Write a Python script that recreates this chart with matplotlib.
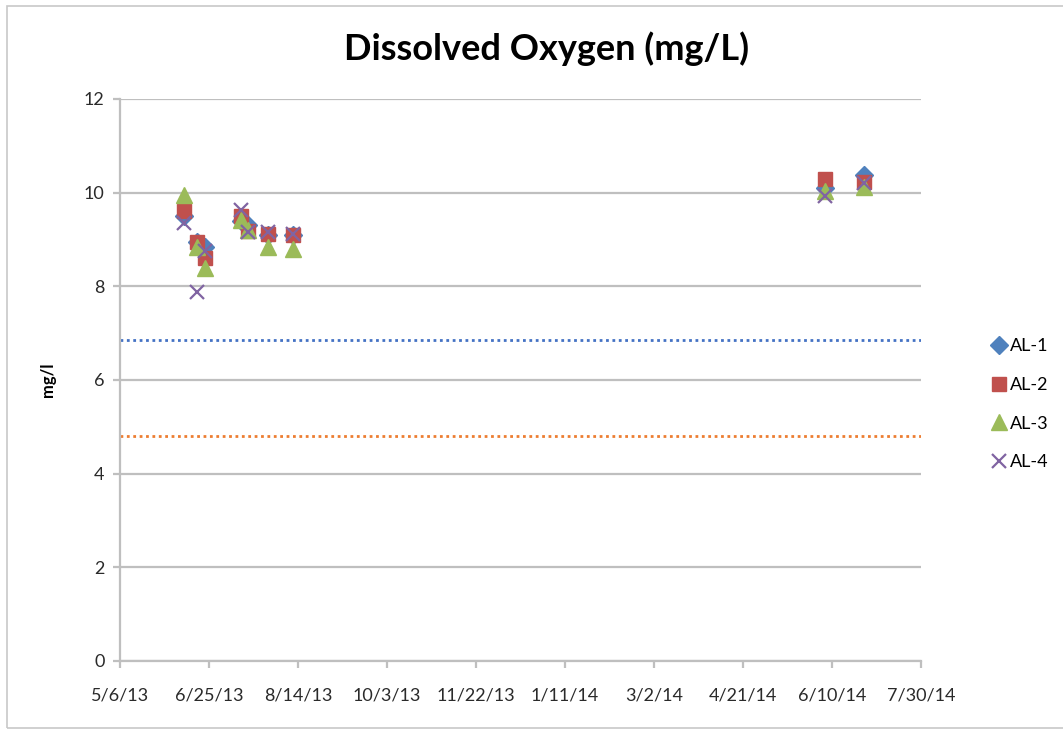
import numpy as np
import matplotlib.pyplot as plt
from matplotlib.patches import Rectangle
import datetime as dt

plt.rcParams['font.family'] = ['Lato', 'DejaVu Sans']

# sampling dates
dates = ['2013-06-11', '2013-06-18', '2013-06-23', '2013-07-13', '2013-07-17',
         '2013-07-28', '2013-08-11', '2014-06-06', '2014-06-28']
al1 = [9.50, 8.95, 8.85, 9.40, 9.30, 9.10, 9.10, 10.10, 10.38]
al2 = [9.60, 8.95, 8.60, 9.50, 9.18, 9.12, 9.10, 10.30, 10.22]
al3 = [9.95, 8.85, 8.40, 9.42, 9.20, 8.85, 8.80, 10.03, 10.13]
al4 = [9.35, 7.88, 8.75, 9.62, 9.15, 9.15, 9.12, 9.92, 10.20]

limit_hi = 6.86
limit_lo = 4.80

tick_dates = ['2013-05-06', '2013-06-25', '2013-08-14', '2013-10-03', '2013-11-22',
              '2014-01-11', '2014-03-02', '2014-04-21', '2014-06-10', '2014-07-30']
tick_labels = ['5/6/13', '6/25/13', '8/14/13', '10/3/13', '11/22/13',
               '1/11/14', '3/2/14', '4/21/14', '6/10/14', '7/30/14']

x = [dt.datetime.strptime(d, '%Y-%m-%d') for d in dates]
xt = [dt.datetime.strptime(d, '%Y-%m-%d') for d in tick_dates]

fig = plt.figure(figsize=(10.63, 7.31), dpi=100)
ax = fig.add_axes([0.1129, 0.0958, 0.7535, 0.7688])

# chart area border
fig.patches.append(Rectangle((7/1063, 3/731), 1.0, 722/731, transform=fig.transFigure,
                             fill=False, edgecolor='#c8c8c8', lw=1.2))

grid_c = '#bfbfbf'
ax.set_ylim(0, 12)
ax.set_xlim(xt[0], xt[-1])
ax.set_yticks(np.arange(0, 13, 2))
ax.set_xticks(xt)
ax.set_xticklabels(tick_labels)
ax.yaxis.grid(True, color=grid_c, lw=1.6)
ax.set_axisbelow(True)
for s in ['top', 'right']:
    ax.spines[s].set_visible(False)
for s in ['left', 'bottom']:
    ax.spines[s].set_color(grid_c)
    ax.spines[s].set_linewidth(1.6)
ax.tick_params(axis='both', color=grid_c, width=1.6, length=5, labelsize=13,
               labelcolor='#2a2a2a')
ax.tick_params(axis='x', pad=14)
ax.tick_params(axis='y', pad=6)

ax.plot([xt[0], xt[-1]], [limit_hi, limit_hi], color='#4472c4', lw=2,
        linestyle=(0, (1, 1.3)))
ax.plot([xt[0], xt[-1]], [limit_lo, limit_lo], color='#ed7d31', lw=2,
        linestyle=(0, (1, 1.3)))

h1, = ax.plot(x, al1, 'D', color='#4f81bd', ms=9.5, mec='#4f81bd', label='AL-1')
h2, = ax.plot(x, al2, 's', color='#c0504d', ms=10.5, mec='#c0504d', label='AL-2')
h3, = ax.plot(x, al3, '^', color='#9bbb59', ms=11.5, mec='#9bbb59', label='AL-3')
h4, = ax.plot(x, al4, 'x', color='#8064a2', ms=10.5, mew=1.6, label='AL-4')

fig.text(0.514, 0.934, 'Dissolved Oxygen (mg/L)', fontsize=26, fontweight='bold',
         ha='center', va='center')
ax.set_ylabel('mg/l', fontsize=12, fontweight='bold', labelpad=20)

fig.legend(handles=[h1, h2, h3, h4], loc='center left',
           bbox_to_anchor=(0.918, 0.447), frameon=False, fontsize=13,
           handlelength=0.8, handletextpad=0.2, labelspacing=1.25)

fig.savefig('out.png', dpi=100)
